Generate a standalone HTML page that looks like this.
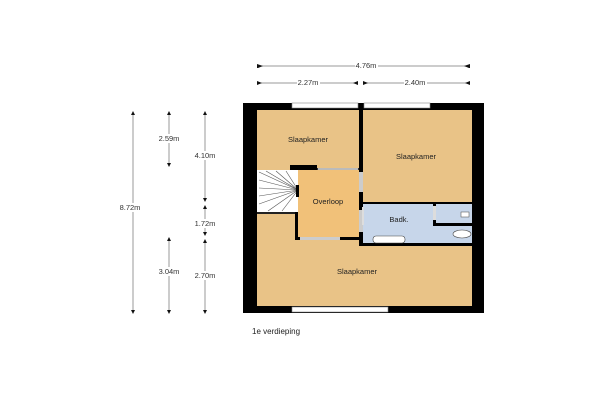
<!DOCTYPE html>
<html><head><meta charset="utf-8"><style>
html,body{margin:0;padding:0;background:#fff;width:600px;height:400px;overflow:hidden}
svg text{font-family:"Liberation Sans",sans-serif;}
</style></head><body>
<svg width="600" height="400" viewBox="0 0 600 400" xmlns="http://www.w3.org/2000/svg">
<!-- outer walls -->
<rect x="243" y="103" width="241" height="210" fill="#000"/>
<!-- rooms -->
<rect x="257" y="110" width="215" height="196" fill="#e9c387"/>
<!-- overloop -->
<rect x="298" y="170" width="62" height="68" fill="#f1c179"/>
<!-- stairs -->
<rect x="257" y="170" width="41" height="42" fill="#fff"/>
<g stroke="#555" stroke-width="0.6">
<line x1="298" y1="190" x2="259" y2="172"/><line x1="298" y1="190" x2="266" y2="171"/>
<line x1="298" y1="190" x2="276" y2="171"/><line x1="298" y1="190" x2="286" y2="171"/>
<line x1="298" y1="190" x2="259" y2="180"/><line x1="298" y1="190" x2="259" y2="188"/>
<line x1="298" y1="190" x2="259" y2="196"/><line x1="298" y1="190" x2="259" y2="204"/>
<line x1="298" y1="190" x2="268" y2="211"/><line x1="298" y1="190" x2="282" y2="211"/>
</g>
<!-- bath -->
<rect x="362" y="203" width="110" height="40" fill="#c7d6ea"/>
<!-- interior walls -->
<rect x="359" y="103" width="4" height="143" fill="#000"/>
<rect x="359" y="243" width="113" height="3" fill="#000"/>
<rect x="362" y="202" width="110" height="2" fill="#000"/>
<rect x="433" y="203" width="3" height="22" fill="#000"/>
<rect x="433" y="223" width="39" height="3" fill="#000"/>
<rect x="290" y="165" width="27" height="5" fill="#000"/>
<rect x="317" y="168" width="42" height="2" fill="#333"/>
<rect x="257" y="212" width="41" height="2" fill="#222"/>
<rect x="295" y="212" width="3" height="27" fill="#000"/>
<rect x="295" y="237" width="65" height="3" fill="#000"/>
<rect x="296" y="185" width="3" height="12" fill="#000"/>
<!-- doors (grey openings) -->
<rect x="318" y="168" width="40" height="2" fill="#bbb"/>
<rect x="300" y="237" width="40" height="3" fill="#ccc"/>
<rect x="359" y="172" width="4" height="20" fill="#ccc"/>
<rect x="359" y="210" width="4" height="22" fill="#ccc"/>
<rect x="362" y="207" width="2" height="18" fill="#ddd"/>
<rect x="433" y="206" width="3" height="14" fill="#ddd"/>
<!-- fixtures -->
<rect x="373" y="236" width="32" height="7" rx="3" fill="#fff" stroke="#444" stroke-width="0.6"/>
<ellipse cx="462" cy="234" rx="9" ry="4" fill="#fff" stroke="#444" stroke-width="0.6"/>
<rect x="461" y="212" width="8" height="5" fill="#fff" stroke="#444" stroke-width="0.5"/>
<!-- windows -->
<g fill="#fff" stroke="#888" stroke-width="0.6">
<rect x="292" y="103" width="66" height="5"/>
<rect x="364" y="103" width="66" height="5"/>
<rect x="292" y="307" width="96" height="5"/>
</g>
<!-- labels -->
<g font-size="7.5" fill="#222" text-anchor="middle">
<text x="308" y="142">Slaapkamer</text>
<text x="416" y="159">Slaapkamer</text>
<text x="328" y="204">Overloop</text>
<text x="399" y="222">Badk.</text>
<text x="357" y="274">Slaapkamer</text>
</g>
<text x="252" y="334" font-size="8" fill="#222">1e verdieping</text>
<!-- dimensions -->
<g stroke="#999" stroke-width="1">
<line x1="257" y1="66" x2="470" y2="66"/>
<line x1="257" y1="83" x2="358" y2="83"/>
<line x1="363" y1="83" x2="470" y2="83"/>
<line x1="133" y1="112" x2="133" y2="313"/>
<line x1="169" y1="112" x2="169" y2="166"/>
<line x1="169" y1="238" x2="169" y2="313"/>
<line x1="205" y1="112" x2="205" y2="201"/>
<line x1="205" y1="206" x2="205" y2="235"/>
<line x1="205" y1="240" x2="205" y2="313"/>
</g>
<g fill="#111">
<path d="M257,64v4h1l5,-2z M470,64v4h-1l-5,-2z M257,81v4l5,-2z M358,81v4l-5,-2z M363,81v4l5,-2z M470,81v4l-5,-2z"/>
<path d="M131,115h4l-2,-4z M131,310h4l-2,4z M167,115h4l-2,-4z M167,163h4l-2,4z M167,241h4l-2,-4z M167,310h4l-2,4z M203,115h4l-2,-4z M203,198h4l-2,4z M203,209h4l-2,-4z M203,232h4l-2,4z M203,243h4l-2,-4z M203,310h4l-2,4z"/>
</g>
<g font-size="7.5" fill="#333" text-anchor="middle">
<rect x="355" y="61" width="23" height="9" fill="#fff"/><text x="366" y="68">4.76m</text>
<rect x="297" y="78" width="23" height="9" fill="#fff"/><text x="308" y="85">2.27m</text>
<rect x="404" y="78" width="23" height="9" fill="#fff"/><text x="415" y="85">2.40m</text>
<rect x="118" y="203" width="24" height="9" fill="#fff"/><text x="130" y="210">8.72m</text>
<rect x="157" y="134" width="24" height="9" fill="#fff"/><text x="169" y="141">2.59m</text>
<rect x="193" y="151" width="24" height="9" fill="#fff"/><text x="205" y="158">4.10m</text>
<rect x="193" y="219" width="24" height="9" fill="#fff"/><text x="205" y="226">1.72m</text>
<rect x="157" y="267" width="24" height="9" fill="#fff"/><text x="169" y="274">3.04m</text>
<rect x="193" y="271" width="24" height="9" fill="#fff"/><text x="205" y="278">2.70m</text>
</g>
</svg>
</body></html>
